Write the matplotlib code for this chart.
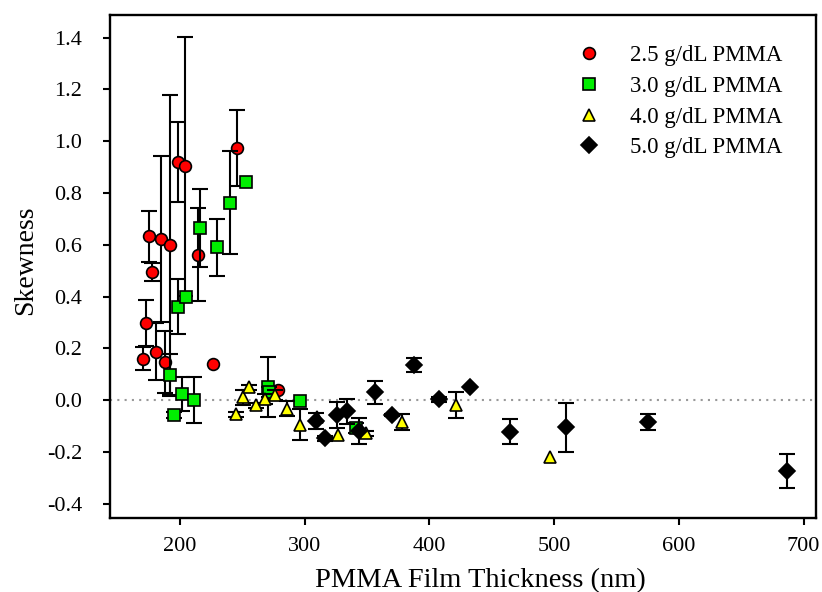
import matplotlib
matplotlib.use("Agg")
import matplotlib.pyplot as plt

plt.rcParams['font.family'] = ['Liberation Serif', 'DejaVu Serif']

# Skewness vs. film thickness for four PMMA concentrations
x_25 = [170.8, 172.7, 175.3, 178.0, 180.5, 184.5, 188.2, 192.5, 198.7, 204.0, 214.2, 226.8, 245.8, 278.5]
y_25 = [0.160, 0.297, 0.632, 0.495, 0.186, 0.622, 0.146, 0.598, 0.921, 0.903, 0.561, 0.140, 0.974, 0.039]
e_25 = [0.043, 0.090, 0.100, 0.035, 0.110, 0.320, 0.120, 0.580, 0.155, 0.500, 0.180, 0.0, 0.148, 0.0]

x_30 = [192.0, 195.2, 198.2, 201.9, 204.6, 211.2, 216.3, 230.0, 240.4, 253.3, 271.0, 271.7, 296.6, 341.0]
y_30 = [0.097, -0.058, 0.361, 0.023, 0.400, 0.000, 0.664, 0.591, 0.763, 0.841, 0.052, 0.032, -0.005, -0.107]
e_30 = [0.080, 0.010, 0.105, 0.065, 0.0, 0.088, 0.150, 0.110, 0.200, 0.0, 0.116, 0.020, 0.0, 0.020]

x_40 = [244.7, 250.3, 255.7, 261.3, 268.4, 276.2, 285.8, 296.5, 309.8, 326.9, 349.4, 378.5, 421.7, 496.4]
y_40 = [-0.055, 0.010, 0.049, -0.021, 0.004, 0.019, -0.033, -0.095, -0.067, -0.135, -0.129, -0.084, -0.019, -0.222]
e_40 = [0.010, 0.030, 0.010, 0.010, 0.020, 0.020, 0.030, 0.060, 0.0, 0.0, 0.010, 0.030, 0.050, 0.0]

x_50 = [309.2, 316.5, 325.9, 334.4, 344.0, 356.6, 370.0, 387.4, 407.5, 432.9, 465.0, 509.8, 575.4, 686.7]
y_50 = [-0.081, -0.148, -0.058, -0.043, -0.119, 0.030, -0.058, 0.135, 0.003, 0.049, -0.122, -0.106, -0.084, -0.275]
e_50 = [0.030, 0.010, 0.050, 0.048, 0.050, 0.044, 0.005, 0.028, 0.010, 0.0, 0.049, 0.094, 0.030, 0.065]

labels = ['2.5 g/dL PMMA', '3.0 g/dL PMMA', '4.0 g/dL PMMA', '5.0 g/dL PMMA']

fig = plt.figure(figsize=(8.22, 5.92), dpi=100)
ax = fig.add_axes([0.1338, 0.125, 0.8589, 0.8497])

ax.axhline(0.0, color='#999999', linestyle=(0, (1, 2.5)), linewidth=1.5, zorder=1)

series = [
    (x_25, y_25, e_25, 'o', '#ff0000', 8.5),
    (x_30, y_30, e_30, 's', '#00ee00', 8),
    (x_40, y_40, e_40, '^', '#ffff00', 8.5),
    (x_50, y_50, e_50, 'D', '#000000', 8),
]
handles = []
for i, (xs, ys, es, m, c, ms) in enumerate(series):
    # only points that carry a nonzero uncertainty get whiskers
    idx = [k for k, e in enumerate(es) if e > 0]
    ax.errorbar([xs[k] for k in idx], [ys[k] for k in idx], yerr=[es[k] for k in idx],
                fmt='none', ecolor='black', elinewidth=1.5,
                capsize=5.5, capthick=1.5, zorder=2 + 2 * i)
    h, = ax.plot(xs, ys, linestyle='none', marker=m, markersize=ms,
                 markerfacecolor=c, markeredgecolor='black', markeredgewidth=1.2,
                 zorder=3 + 2 * i, label=labels[i])
    handles.append(h)

ax.set_xlim(144, 710)
ax.set_ylim(-0.456, 1.488)
ax.set_xticks([200, 300, 400, 500, 600, 700])
ax.set_yticks([-0.4, -0.2, 0.0, 0.2, 0.4, 0.6, 0.8, 1.0, 1.2, 1.4])
ax.set_yticklabels(['-0.4', '-0.2', '0.0', '0.2', '0.4', '0.6', '0.8', '1.0', '1.2', '1.4'])

for s in ax.spines.values():
    s.set_linewidth(1.7)
ax.tick_params(axis='both', which='both', direction='out', length=5, width=1.5,
               labelsize=16, top=False, right=False)
ax.tick_params(axis='x', pad=9)
ax.tick_params(axis='y', pad=15)

ax.set_xlabel('PMMA Film Thickness (nm)', fontsize=20.5, va='baseline')
ax.xaxis.set_label_coords(0.524, -0.137)
ax.set_ylabel('Skewness', fontsize=20, va='center')
ax.yaxis.set_label_coords(-0.12, 0.513)

ax.legend(handles=handles, loc='upper left', frameon=False, fontsize=16.5,
          handlelength=1.0, handletextpad=1.29, labelspacing=0.43,
          borderaxespad=0.0, bbox_to_anchor=(0.649, 0.959))

fig.savefig('out.png', dpi=100)
